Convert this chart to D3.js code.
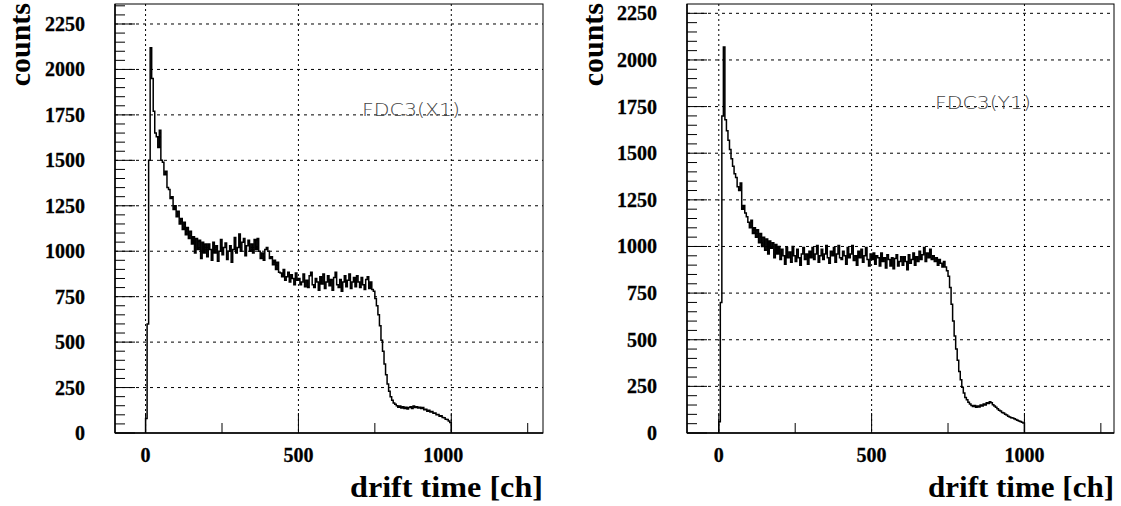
<!DOCTYPE html>
<html lang="en">
<head>
  <meta charset="UTF-8">
  <title>FDC3 drift time</title>
  <style>
    body {
      margin: 0;
      background: #ffffff;
    }
    svg {
      display: block;
    }
    .tick-label {
      font-family: "Liberation Serif", "Times New Roman", serif;
      font-weight: bold;
      font-size: 20px;
      fill: #000;
      stroke: #000;
      stroke-width: 0.3px;
    }
    .axis-title {
      font-family: "Liberation Serif", "Times New Roman", serif;
      font-weight: bold;
      fill: #000;
    }
    .hist-label {
      font-family: "DejaVu Sans", sans-serif;
      font-weight: 200;
      font-size: 18px;
      fill: #444;
    }
  </style>
</head>
<body>
  <div id="chart"></div>

  <script src="https://d3js.org/d3.v7.min.js"></script>
  <script>
    // counts per 5-channel bin, channels 0..1000
    const binWidth = 5;

    const countsX1 = [
      80, 600, 1500, 2120, 1950, 1770, 1650, 1630, 1570, 1665, 1500, 1490, 1420, 1440, 1350, 1340, 1290, 1300, 1230, 1250,
      1190, 1220, 1150, 1180, 1120, 1160, 1090, 1130, 1070, 1110, 1040, 1080, 990, 1070, 1010, 1060, 960, 1050, 990, 1040,
      970, 1040, 1010, 950, 1050, 990, 1030, 945, 1000, 1065, 980, 1020, 1045, 955, 1000, 1030, 940, 1010, 1075, 990,
      1020, 1095, 1000, 1050, 1070, 975, 1030, 1060, 1000, 1040, 990, 1065, 1010, 1070, 1000, 960, 990, 950, 1010, 1020,
      1000, 960, 970, 925, 950, 900, 940, 885, 880, 860, 900, 840, 860, 885, 830, 870, 850, 815, 880, 840,
      850, 815, 830, 875, 805, 840, 800, 865, 885, 815, 800, 850, 830, 785, 860, 820, 875, 795, 830, 865,
      810, 845, 785, 855, 885, 815, 800, 845, 780, 830, 865, 805, 840, 875, 795, 830, 855, 805, 865, 830,
      800, 855, 815, 790, 845, 860, 795, 830, 790, 780, 740, 700, 650, 590, 510, 450, 380, 320, 270, 230,
      200, 180, 165, 158, 150, 142, 148, 138, 145, 135, 142, 132, 140, 145, 135, 148, 140, 145, 138, 142,
      135, 140, 128, 130, 120, 125, 115, 118, 108, 110, 100, 102, 92, 95, 85, 84, 76, 74, 66, 58
    ];

    const countsY1 = [
      60, 700, 1700, 2070, 1680, 1620, 1570, 1520, 1470, 1430, 1390, 1370, 1320, 1300, 1340, 1200, 1220, 1180, 1160, 1130,
      1100, 1140, 1070, 1100, 1050, 1090, 1020, 1070, 1000, 1050, 980, 1040, 960, 1030, 990, 1020, 940, 1010, 960, 1000,
      930, 985, 950, 905, 995, 940, 970, 915, 1000, 950, 920, 985, 940, 900, 960, 995, 930, 960, 905, 975,
      940, 995, 930, 960, 1005, 915, 950, 985, 930, 960, 1005, 940, 910, 975, 950, 995, 915, 960, 1005, 940,
      930, 975, 950, 905, 995, 940, 960, 1005, 925, 950, 900, 975, 940, 985, 915, 950, 995, 930, 895, 960,
      930, 965, 905, 950, 940, 895, 965, 920, 940, 885, 955, 930, 895, 940, 880, 935, 955, 895, 920, 945,
      900, 945, 920, 875, 955, 910, 930, 965, 900, 945, 920, 975, 930, 955, 995, 920, 965, 940, 985, 930,
      950, 920, 940, 900, 930, 910, 890, 920, 890, 870, 840, 780, 690, 600, 520, 450, 390, 330, 285, 245,
      215, 190, 178, 165, 155, 148, 142, 148, 138, 145, 140, 150, 145, 155, 150, 162, 158, 168, 162, 152,
      145, 138, 130, 122, 118, 110, 107, 100, 96, 90, 86, 82, 80, 76, 72, 68, 64, 62, 58, 54
    ];

    const xMajorTicks = [0, 500, 1000];
    const xMinorTicks = [250, 750, 1250];
    const yMajorTicks = [0, 250, 500, 750, 1000, 1250, 1500, 1750, 2000, 2250];

    const panels = [
      {
        counts: countsX1, name: "FDC3(X1)",
        left: 115, right: 543, xDomain: [-100, 1300], yMax: 2360,
        labelX: 362, labelY: 116, labelLen: 98, titleLen: 193, countsX: 20,
        lastLabelShift: -8
      },
      {
        counts: countsY1, name: "FDC3(Y1)",
        left: 687, right: 1114, xDomain: [-104, 1293], yMax: 2300,
        labelX: 935, labelY: 109, labelLen: 96, titleLen: 186, countsX: 593,
        lastLabelShift: 0
      }
    ];

    const width = 1121;
    const height = 506;
    const plotTop = 4;
    const plotBottom = 433;

    const svg = d3.select("#chart")
      .append("svg")
      .attr("width", width)
      .attr("height", height);

    panels.forEach(p => {
      const x = d3.scaleLinear().domain(p.xDomain).range([p.left, p.right]);
      const y = d3.scaleLinear().domain([0, p.yMax]).range([plotBottom, plotTop]);
      const g = svg.append("g");

      // grid
      g.selectAll(".hgrid")
        .data(yMajorTicks.filter(d => d > 0))
        .enter().append("line")
        .attr("x1", p.left).attr("x2", p.right)
        .attr("y1", d => y(d)).attr("y2", d => y(d))
        .attr("stroke", "#000").attr("stroke-width", 1)
        .attr("stroke-dasharray", "3,4");

      g.selectAll(".vgrid")
        .data(xMajorTicks)
        .enter().append("line")
        .attr("x1", d => x(d)).attr("x2", d => x(d))
        .attr("y1", plotTop).attr("y2", plotBottom)
        .attr("stroke", "#000").attr("stroke-width", 1)
        .attr("stroke-dasharray", "2,3");

      // histogram as steps
      const pts = p.counts.map((c, i) => [i * binWidth, c]);
      const end = p.counts.length * binWidth;
      pts.unshift([0, 0]);
      pts.push([end, p.counts[p.counts.length - 1]]);
      pts.push([end, 0]);

      const line = d3.line()
        .x(d => x(d[0]))
        .y(d => y(d[1]))
        .curve(d3.curveStepAfter);

      g.append("path")
        .datum(pts)
        .attr("d", line)
        .attr("fill", "none")
        .attr("stroke", "#000")
        .attr("stroke-width", 1.5);

      // frame
      g.append("rect")
        .attr("x", p.left).attr("y", plotTop)
        .attr("width", p.right - p.left).attr("height", plotBottom - plotTop)
        .attr("fill", "none").attr("stroke", "#000").attr("stroke-width", 1);

      g.append("line")
        .attr("x1", p.left).attr("x2", p.left).attr("y1", plotTop).attr("y2", plotBottom)
        .attr("stroke", "#000").attr("stroke-width", 1.5);
      g.append("line")
        .attr("x1", p.left).attr("x2", p.right).attr("y1", plotBottom).attr("y2", plotBottom)
        .attr("stroke", "#000").attr("stroke-width", 1.5);

      // y ticks
      const yMinor = d3.range(0, p.yMax, 50).filter(d => d % 250 !== 0);
      g.selectAll(".ymin")
        .data(yMinor)
        .enter().append("line")
        .attr("x1", p.left).attr("x2", p.left + 10)
        .attr("y1", d => y(d)).attr("y2", d => y(d))
        .attr("stroke", "#000");
      g.selectAll(".ymaj")
        .data(yMajorTicks)
        .enter().append("line")
        .attr("x1", p.left).attr("x2", p.left + 20)
        .attr("y1", d => y(d)).attr("y2", d => y(d))
        .attr("stroke", "#000");

      g.selectAll(".ylab")
        .data(yMajorTicks)
        .enter().append("text")
        .attr("class", "tick-label")
        .attr("x", p.left - 30)
        .attr("y", d => y(d))
        .attr("dy", "0.35em")
        .attr("text-anchor", "end")
        .text(d => d);

      // x ticks
      g.selectAll(".xmin")
        .data(xMinorTicks)
        .enter().append("line")
        .attr("x1", d => x(d)).attr("x2", d => x(d))
        .attr("y1", plotBottom).attr("y2", plotBottom - 10)
        .attr("stroke", "#000");
      g.selectAll(".xmaj")
        .data(xMajorTicks)
        .enter().append("line")
        .attr("x1", d => x(d)).attr("x2", d => x(d))
        .attr("y1", plotBottom).attr("y2", plotBottom - 20)
        .attr("stroke", "#000");

      g.selectAll(".xlab")
        .data(xMajorTicks)
        .enter().append("text")
        .attr("class", "tick-label")
        .attr("x", (d, i) => x(d) + (i === xMajorTicks.length - 1 ? p.lastLabelShift : 0))
        .attr("y", 455)
        .attr("dy", "0.35em")
        .attr("text-anchor", "middle")
        .text(d => d);

      // axis titles
      g.append("text")
        .attr("class", "axis-title")
        .attr("x", p.right)
        .attr("y", 497)
        .attr("text-anchor", "end")
        .attr("font-size", 30)
        .attr("textLength", p.titleLen)
        .attr("lengthAdjust", "spacingAndGlyphs")
        .text("drift time [ch]");

      g.append("text")
        .attr("class", "axis-title")
        .attr("transform", `translate(${p.countsX + 10},3) rotate(-90)`)
        .attr("text-anchor", "end")
        .attr("font-size", 30)
        .text("counts");

      // histogram name
      g.append("text")
        .attr("class", "hist-label")
        .attr("x", p.labelX)
        .attr("y", p.labelY)
        .attr("textLength", p.labelLen)
        .attr("lengthAdjust", "spacingAndGlyphs")
        .text(p.name);
    });
  </script>
</body>
</html>
